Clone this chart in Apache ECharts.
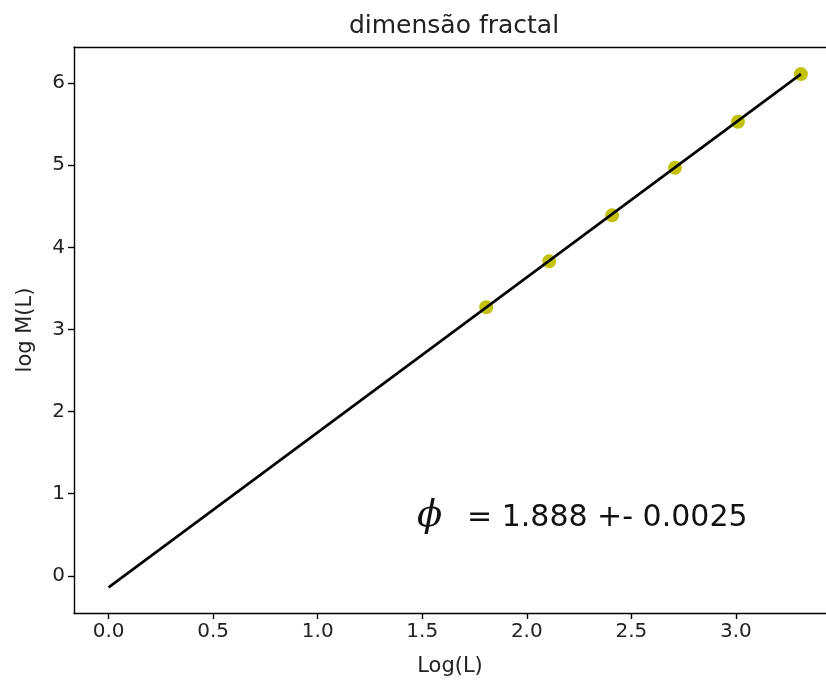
<!DOCTYPE html>
<html>
<head>
<meta charset="utf-8">
<script src="https://cdn.jsdelivr.net/npm/echarts@6/dist/echarts.min.js"></script>
<style>html,body{margin:0;padding:0;background:#fff}#c{width:826px;height:682px}</style>
</head>
<body>
<div id="c"></div>
<script>
const logL = [1.806, 2.107, 2.408, 2.709, 3.010, 3.311];
const logM = [3.27, 3.83, 4.39, 4.97, 5.53, 6.11];
const fitX = [0.0, 3.311];
const fitY = [-0.141, 6.11];
const xTicks = [0.0, 0.5, 1.0, 1.5, 2.0, 2.5, 3.0];
const yTicks = [0, 1, 2, 3, 4, 5, 6];
const titleText = 'dimensão fractal';
const xName = 'Log(L)';
const yName = 'log M(L)';
const annot = '= 1.888 +- 0.0025';

const chart = echarts.init(document.getElementById('c'), null, {renderer: 'canvas'});
const font = 'DejaVu Sans';
const XMIN = -0.1655, XMAX = 3.431, YMIN = -0.4526, YMAX = 6.44;
const lineSty = {color: '#000', width: 1.4};
chart.setOption({
  backgroundColor: '#fff',
  animation: false,
  title: {text: titleText, left: 449, top: 9, textAlign: 'center',
    textStyle: {fontFamily: font, fontSize: 25, fontWeight: 'normal', color: '#222'}},
  grid: {left: 74, right: 0, top: 47, bottom: 69, show: false, containLabel: false},
  xAxis: [{
    type: 'value', min: XMIN, max: XMAX, position: 'bottom',
    axisLine: {show: true, onZero: false, lineStyle: lineSty},
    axisTick: {show: true, length: 6, lineStyle: lineSty, customValues: xTicks},
    axisLabel: {color: '#222', fontFamily: font, fontSize: 20, margin: 9, customValues: xTicks, formatter: v => v.toFixed(1)},
    splitLine: {show: false},
    name: xName, nameLocation: 'middle', nameGap: 43,
    nameTextStyle: {color: '#222', fontFamily: font, fontSize: 21}
  }, {
    type: 'value', min: XMIN, max: XMAX, position: 'top',
    axisLine: {show: true, onZero: false, lineStyle: lineSty},
    axisTick: {show: false}, axisLabel: {show: false}, splitLine: {show: false}
  }],
  yAxis: {
    type: 'value', min: YMIN, max: YMAX,
    axisLine: {show: true, onZero: false, lineStyle: lineSty},
    axisTick: {show: true, length: 6, lineStyle: lineSty, customValues: yTicks},
    axisLabel: {color: '#222', fontFamily: font, fontSize: 20, margin: 9, customValues: yTicks, formatter: v => String(v)},
    splitLine: {show: false},
    name: yName, nameLocation: 'middle', nameGap: 38, nameRotate: 90,
    nameTextStyle: {color: '#222', fontFamily: font, fontSize: 21}
  },
  series: [
    {type: 'scatter', data: logL.map((x, i) => [x, logM[i]]), symbol: 'circle', symbolSize: 14,
      itemStyle: {color: '#bfbf00', opacity: 0.95}, z: 2},
    {type: 'line', data: fitX.map((x, i) => [x, fitY[i]]), symbol: 'none',
      lineStyle: {color: '#000', width: 2.6}, z: 3}
  ],
  graphic: [
    {type: 'text', left: 417, top: 498, style: {text: 'ϕ', fontFamily: 'DejaVu Serif', fontStyle: 'italic', fontSize: 37, fill: '#111'}},
    {type: 'text', left: 467, top: 503, style: {text: annot, fontFamily: font, fontSize: 30, fill: '#111'}}
  ]
});
</script>
</body>
</html>
